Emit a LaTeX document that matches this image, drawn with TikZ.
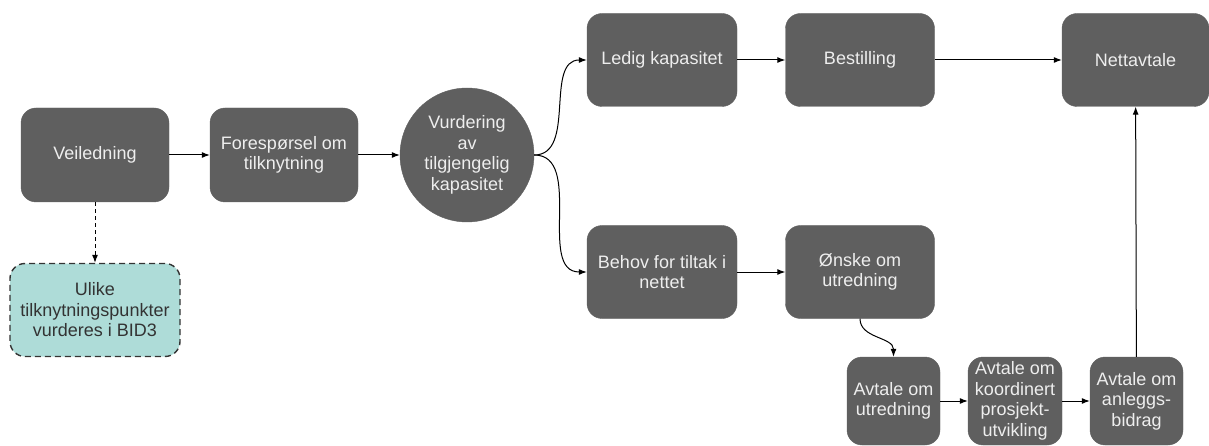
\documentclass[tikz,border=0pt]{standalone}
\usepackage{fontspec}
\setmainfont{Liberation Sans}
\usetikzlibrary{arrows.meta}
\definecolor{boxfill}{HTML}{5F5F5F}
\definecolor{boxtext}{HTML}{EEEEEE}
\definecolor{tealfill}{HTML}{AEDCD8}
\definecolor{darkline}{HTML}{333333}
\tikzset{
  pbox/.style={draw=boxfill, fill=boxfill, text=boxtext, rounded corners=15pt,
    align=center, font=\fontsize{18}{20.5}\selectfont, inner sep=0pt},
  pcircle/.style={circle, draw=boxfill, fill=boxfill, text=boxtext, minimum size=134pt,
    align=center, font=\fontsize{18}{20.5}\selectfont, inner sep=0pt},
  tbox/.style={draw=darkline, fill=tealfill, text=darkline, rounded corners=15pt, dashed,
    dash pattern=on 6pt off 4pt, line width=1.4pt, align=center,
    font=\fontsize{18}{20.5}\selectfont, inner sep=0pt},
  arr/.style={draw=black, line width=1pt, -{Latex[length=8pt,width=6pt]}},
}
\begin{document}
\begin{tikzpicture}[x=1pt,y=-1pt]
\useasboundingbox (0,0) rectangle (1209,446);
\node[pbox, minimum width=148pt, minimum height=94pt] (veil) at (95,155) {Veiledning};
\node[pbox, minimum width=148pt, minimum height=94pt] (fore) at (284,155) {Forespørsel om\\tilknytning};
\node[pcircle] (vurd) at (467,155) {Vurdering\\av\\tilgjengelig\\kapasitet};
\node[tbox, minimum width=170pt, minimum height=93pt] (ulike) at (95,310) {Ulike\\tilknytningspunkter\\vurderes i BID3};
\node[pbox, minimum width=150pt, minimum height=93pt] (ledig) at (662,60) {Ledig kapasitet};
\node[pbox, minimum width=149pt, minimum height=93pt] (best) at (860,60) {Bestilling};
\node[pbox, minimum width=147pt, minimum height=93pt] (nett) at (1135.5,60) {Nettavtale};
\node[pbox, minimum width=150pt, minimum height=93pt] (behov) at (662,272) {Behov for tiltak i\\nettet};
\node[pbox, minimum width=149pt, minimum height=93pt] (onske) at (860,272) {Ønske om\\utredning};
\node[pbox, minimum width=93pt, minimum height=88pt] (avutr) at (893.5,401) {Avtale om\\utredning};
\node[pbox, minimum width=94pt, minimum height=88pt] (avkoo) at (1015,401) {Avtale om\\koordinert\\prosjekt-\\utvikling};
\node[pbox, minimum width=93pt, minimum height=88pt] (avanl) at (1136.5,401) {Avtale om\\anleggs-\\bidrag};
\draw[arr] (veil) -- (fore);
\draw[arr] (fore) -- (vurd);
\draw[arr, dashed, dash pattern=on 4pt off 3pt] (veil) -- (ulike);
\draw[arr] (vurd.east) to[out=0,in=180] (ledig.west);
\draw[arr] (vurd.east) to[out=0,in=180] (behov.west);
\draw[arr] (ledig) -- (best);
\draw[arr] (best) -- (nett);
\draw[arr] (behov) -- (onske);
\draw[arr] (onske.south) to[out=-90,in=90] (avutr.north);
\draw[arr] (avutr) -- (avkoo);
\draw[arr] (avkoo) -- (avanl);
\draw[arr] (avanl) -- (nett);
\end{tikzpicture}
\end{document}
